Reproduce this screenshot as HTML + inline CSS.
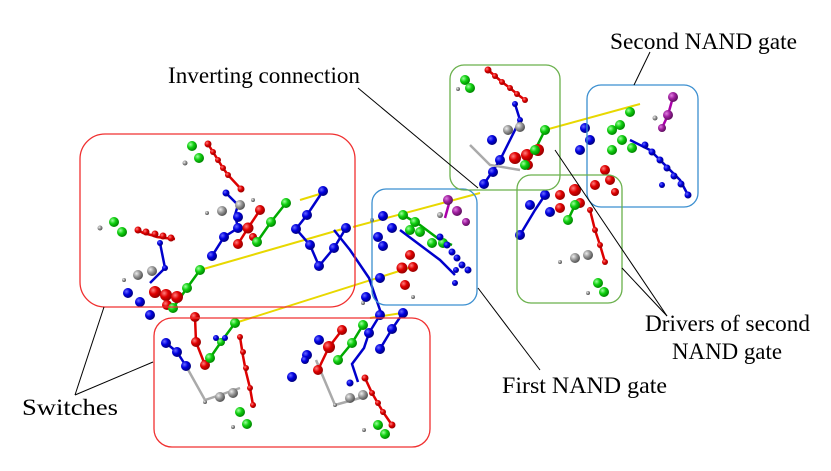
<!DOCTYPE html>
<html><head><meta charset="utf-8"><style>
html,body{margin:0;padding:0;background:#fff}
svg{display:block}
text{font-family:"Liberation Serif",serif;font-size:23px;fill:#000}
</style></head><body>
<svg width="831" height="471" viewBox="0 0 831 471" xmlns="http://www.w3.org/2000/svg">
<defs>
<radialGradient id="r" cx="35%" cy="35%" r="65%"><stop offset="0" stop-color="#ff8080"/><stop offset="0.5" stop-color="#e00000"/><stop offset="1" stop-color="#900"/></radialGradient>
<radialGradient id="b" cx="35%" cy="35%" r="65%"><stop offset="0" stop-color="#6a6aff"/><stop offset="0.5" stop-color="#0000e0"/><stop offset="1" stop-color="#000080"/></radialGradient>
<radialGradient id="g" cx="35%" cy="35%" r="65%"><stop offset="0" stop-color="#a0ffa0"/><stop offset="0.5" stop-color="#10d010"/><stop offset="1" stop-color="#080"/></radialGradient>
<radialGradient id="w" cx="35%" cy="35%" r="65%"><stop offset="0" stop-color="#eee"/><stop offset="0.5" stop-color="#999"/><stop offset="1" stop-color="#555"/></radialGradient>
<radialGradient id="p" cx="35%" cy="35%" r="65%"><stop offset="0" stop-color="#e080e0"/><stop offset="0.5" stop-color="#a020a0"/><stop offset="1" stop-color="#601060"/></radialGradient>
</defs>

<g stroke="#e8d800" stroke-width="2">
<line x1="200" y1="270" x2="346" y2="228"/>
<line x1="353" y1="227" x2="480" y2="193"/>
<line x1="235" y1="323" x2="412" y2="267"/>
<line x1="370" y1="318" x2="402" y2="313"/>
<line x1="545" y1="130" x2="640" y2="104"/>
<line x1="300" y1="200" x2="323" y2="193"/>
</g>

<g fill="none" stroke-width="2.5">
<polyline stroke="#d00" points="208,144 213,152 218,160 223,168 228,175 241,189"/>
<polyline stroke="#d00" points="138,230 143,233 151,235 157,237 165,238 175,239"/>
<polyline stroke="#00c" points="226,193 238,205 235,215 238,228 224,237 212,256"/>
<polyline stroke="#d00" points="260,210 248,228 238,244"/>
<polyline stroke="#0a0" points="286,203 271,222 257,242"/>
<polyline stroke="#00c" points="323,191 307,215 296,229 310,245 319,266 334,248 346,228"/>
<polyline stroke="#00c" points="160,243 165,268 150,283"/>
<polyline stroke="#0a0" points="200,270 187,288 173,308"/>
<polyline stroke="#d00" points="195,317 196,342 205,365"/>
<polyline stroke="#0a0" points="235,323 221,342 210,358"/>
<polyline stroke="#d00" points="240,337 243,356 246,372 250,388 253,405"/>
<polyline stroke="#00c" points="166,343 177,352 186,366"/>
<polyline stroke="#aaa" points="186,366 205,400 220,395 240,388"/>
<polyline stroke="#00c" points="380,315 369,333 364,348 352,364 358,382"/>
<polyline stroke="#00c" points="403,313 392,329 380,349"/>
<polyline stroke="#0a0" points="363,325 352,343 338,360"/>
<polyline stroke="#d00" points="342,330 329,347 318,370"/>
<polyline stroke="#d00" points="365,378 372,393 383,412 392,425"/>
<polyline stroke="#aaa" points="316,360 335,405 360,398"/>
<polyline stroke="#00c" points="334,230 350,250 369,278 381,313"/>
<polyline stroke="#00c" points="400,230 420,245 440,260 455,275"/>
<polyline stroke="#0a0" points="403,215 420,225 440,240 452,245"/>
<polyline stroke="#d00" points="488,70 495,76 502,82 510,88 517,94 525,100"/>
<polyline stroke="#00c" points="515,104 520,120 510,140 500,160 484,184"/>
<polyline stroke="#aaa" points="470,145 490,165 520,170"/>
<polyline stroke="#0a0" points="545,130 535,150 525,165"/>
<polyline stroke="#00c" points="545,195 535,210 520,235"/>
<polyline stroke="#d00" points="590,210 595,230 600,245 605,262"/>
<polyline stroke="#0a0" points="575,205 568,220"/>
<polyline stroke="#00c" points="630,140 650,150 665,165 680,180 688,195"/>
<polyline stroke="#a0a" points="673,97 668,115 662,128"/>
<polyline stroke="#a0a" points="450,200 445,218"/>
</g>

<g>
<circle cx="192" cy="146" r="5" fill="url(#g)"/><circle cx="199" cy="158" r="5" fill="url(#g)"/><circle cx="185" cy="163" r="2.5" fill="url(#w)"/>
<circle cx="208" cy="144" r="3.5" fill="url(#r)"/><circle cx="213" cy="152" r="3" fill="url(#r)"/><circle cx="218" cy="160" r="3" fill="url(#r)"/><circle cx="223" cy="168" r="3" fill="url(#r)"/><circle cx="228" cy="175" r="3" fill="url(#r)"/><circle cx="241" cy="189" r="3.5" fill="url(#r)"/>
<circle cx="114" cy="222" r="5" fill="url(#g)"/><circle cx="122" cy="232" r="5" fill="url(#g)"/><circle cx="100" cy="228" r="2.5" fill="url(#w)"/>
<circle cx="138" cy="230" r="3.5" fill="url(#r)"/><circle cx="146" cy="232" r="3.5" fill="url(#r)"/><circle cx="155" cy="234" r="3.5" fill="url(#r)"/><circle cx="163" cy="236" r="3.5" fill="url(#r)"/><circle cx="171" cy="238" r="3.5" fill="url(#r)"/>
<circle cx="160" cy="243" r="3" fill="url(#b)"/><circle cx="165" cy="268" r="3" fill="url(#b)"/>
<circle cx="138" cy="275" r="5" fill="url(#w)"/><circle cx="152" cy="271" r="5" fill="url(#w)"/><circle cx="124" cy="280" r="2" fill="url(#w)"/>
<circle cx="128" cy="293" r="5" fill="url(#b)"/><circle cx="140" cy="302" r="5" fill="url(#b)"/><circle cx="150" cy="315" r="5" fill="url(#b)"/>
<circle cx="155" cy="292" r="6" fill="url(#r)"/><circle cx="166" cy="295" r="6" fill="url(#r)"/><circle cx="177" cy="297" r="6" fill="url(#r)"/><circle cx="167" cy="305" r="5" fill="url(#r)"/>
<circle cx="200" cy="270" r="5" fill="url(#g)"/><circle cx="187" cy="288" r="5" fill="url(#g)"/><circle cx="173" cy="308" r="5" fill="url(#g)"/>
<circle cx="226" cy="193" r="3.5" fill="url(#b)"/><circle cx="222" cy="211" r="5" fill="url(#w)"/><circle cx="240" cy="205" r="5" fill="url(#w)"/><circle cx="207" cy="213" r="2" fill="url(#w)"/><circle cx="253" cy="200" r="2" fill="url(#w)"/>
<circle cx="238" cy="217" r="5" fill="url(#b)"/><circle cx="238" cy="228" r="5" fill="url(#b)"/><circle cx="224" cy="237" r="5" fill="url(#b)"/><circle cx="212" cy="256" r="5" fill="url(#b)"/>
<circle cx="260" cy="210" r="5" fill="url(#r)"/><circle cx="248" cy="228" r="5.5" fill="url(#r)"/><circle cx="238" cy="244" r="5" fill="url(#r)"/><circle cx="253" cy="237" r="4" fill="url(#r)"/>
<circle cx="286" cy="203" r="5" fill="url(#g)"/><circle cx="271" cy="222" r="5" fill="url(#g)"/><circle cx="257" cy="242" r="5" fill="url(#g)"/>
<circle cx="323" cy="191" r="5" fill="url(#b)"/><circle cx="307" cy="215" r="5" fill="url(#b)"/><circle cx="296" cy="229" r="5" fill="url(#b)"/><circle cx="310" cy="245" r="5" fill="url(#b)"/><circle cx="319" cy="266" r="5" fill="url(#b)"/><circle cx="334" cy="248" r="5" fill="url(#b)"/><circle cx="346" cy="228" r="5" fill="url(#b)"/>
<circle cx="195" cy="317" r="5" fill="url(#r)"/><circle cx="196" cy="342" r="5" fill="url(#r)"/><circle cx="205" cy="365" r="5" fill="url(#r)"/>
<circle cx="235" cy="323" r="5" fill="url(#g)"/><circle cx="221" cy="342" r="4" fill="url(#g)"/><circle cx="210" cy="358" r="5" fill="url(#g)"/>
<circle cx="216" cy="338" r="3" fill="url(#b)"/><circle cx="225" cy="338" r="3" fill="url(#b)"/>
<circle cx="240" cy="337" r="3" fill="url(#r)"/><circle cx="243" cy="352" r="3" fill="url(#r)"/><circle cx="246" cy="368" r="3" fill="url(#r)"/><circle cx="250" cy="388" r="3" fill="url(#r)"/><circle cx="253" cy="405" r="3" fill="url(#r)"/>
<circle cx="166" cy="343" r="5" fill="url(#b)"/><circle cx="177" cy="352" r="5" fill="url(#b)"/><circle cx="186" cy="366" r="5" fill="url(#b)"/>
<circle cx="220" cy="397" r="5" fill="url(#w)"/><circle cx="233" cy="393" r="5" fill="url(#w)"/><circle cx="205" cy="402" r="2" fill="url(#w)"/>
<circle cx="240" cy="412" r="5" fill="url(#g)"/><circle cx="247" cy="424" r="5" fill="url(#g)"/><circle cx="233" cy="427" r="2" fill="url(#w)"/>
<circle cx="403" cy="313" r="5" fill="url(#b)"/><circle cx="392" cy="329" r="5" fill="url(#b)"/><circle cx="380" cy="349" r="5" fill="url(#b)"/>
<circle cx="363" cy="325" r="5" fill="url(#g)"/><circle cx="352" cy="343" r="5" fill="url(#g)"/><circle cx="338" cy="360" r="5" fill="url(#g)"/>
<circle cx="342" cy="330" r="5" fill="url(#r)"/><circle cx="329" cy="347" r="6" fill="url(#r)"/><circle cx="318" cy="370" r="5" fill="url(#r)"/>
<circle cx="319" cy="340" r="5" fill="url(#b)"/><circle cx="307" cy="355" r="5" fill="url(#b)"/><circle cx="292" cy="377" r="5" fill="url(#b)"/><circle cx="305" cy="360" r="4" fill="url(#b)"/>
<circle cx="350" cy="383" r="3.5" fill="url(#b)"/>
<circle cx="365" cy="378" r="3.5" fill="url(#r)"/><circle cx="372" cy="393" r="3" fill="url(#r)"/><circle cx="378" cy="403" r="3" fill="url(#r)"/><circle cx="383" cy="412" r="3" fill="url(#r)"/><circle cx="392" cy="425" r="3.5" fill="url(#r)"/>
<circle cx="350" cy="398" r="5" fill="url(#w)"/><circle cx="363" cy="395" r="5" fill="url(#w)"/><circle cx="335" cy="405" r="2" fill="url(#w)"/>
<circle cx="378" cy="425" r="5" fill="url(#g)"/><circle cx="385" cy="434" r="5" fill="url(#g)"/><circle cx="364" cy="430" r="2" fill="url(#w)"/>
<circle cx="380" cy="315" r="5" fill="url(#b)"/><circle cx="369" cy="333" r="5" fill="url(#b)"/><circle cx="363" cy="303" r="2" fill="url(#w)"/>
<circle cx="383" cy="216" r="5" fill="url(#b)"/><circle cx="392" cy="228" r="5" fill="url(#b)"/><circle cx="378" cy="237" r="5" fill="url(#b)"/><circle cx="383" cy="246" r="5" fill="url(#b)"/><circle cx="372" cy="220" r="2" fill="url(#w)"/>
<circle cx="380" cy="278" r="5" fill="url(#b)"/><circle cx="366" cy="297" r="5" fill="url(#b)"/>
<circle cx="403" cy="215" r="5" fill="url(#g)"/><circle cx="415" cy="222" r="5" fill="url(#g)"/><circle cx="420" cy="232" r="5" fill="url(#g)"/><circle cx="432" cy="243" r="5" fill="url(#g)"/><circle cx="443" cy="243" r="5" fill="url(#g)"/><circle cx="410" cy="230" r="5" fill="url(#g)"/>
<circle cx="448" cy="200" r="5" fill="url(#p)"/><circle cx="457" cy="211" r="5" fill="url(#p)"/><circle cx="466" cy="222" r="4" fill="url(#p)"/><circle cx="440" cy="215" r="3" fill="url(#w)"/>
<circle cx="440" cy="237" r="3.5" fill="url(#b)"/><circle cx="447" cy="245" r="3.5" fill="url(#b)"/><circle cx="452" cy="252" r="3.5" fill="url(#b)"/><circle cx="457" cy="258" r="3.5" fill="url(#b)"/><circle cx="462" cy="265" r="3.5" fill="url(#b)"/><circle cx="468" cy="270" r="3.5" fill="url(#b)"/><circle cx="456" cy="270" r="3" fill="url(#b)"/><circle cx="455" cy="283" r="3" fill="url(#b)"/>
<circle cx="410" cy="255" r="5" fill="url(#r)"/><circle cx="402" cy="268" r="5.5" fill="url(#r)"/><circle cx="413" cy="267" r="5" fill="url(#r)"/><circle cx="405" cy="285" r="5" fill="url(#r)"/><circle cx="413" cy="297" r="2" fill="url(#w)"/>
<circle cx="488" cy="70" r="3.5" fill="url(#r)"/><circle cx="495" cy="76" r="3" fill="url(#r)"/><circle cx="502" cy="82" r="3" fill="url(#r)"/><circle cx="510" cy="88" r="3" fill="url(#r)"/><circle cx="517" cy="94" r="3" fill="url(#r)"/><circle cx="525" cy="100" r="3" fill="url(#r)"/>
<circle cx="465" cy="80" r="5" fill="url(#g)"/><circle cx="470" cy="88" r="5" fill="url(#g)"/><circle cx="458" cy="89" r="2" fill="url(#w)"/>
<circle cx="515" cy="104" r="3" fill="url(#b)"/><circle cx="520" cy="120" r="3" fill="url(#b)"/>
<circle cx="508" cy="130" r="5" fill="url(#w)"/><circle cx="520" cy="127" r="5" fill="url(#w)"/>
<circle cx="492" cy="140" r="5" fill="url(#b)"/><circle cx="500" cy="160" r="5" fill="url(#b)"/><circle cx="493" cy="172" r="5" fill="url(#b)"/><circle cx="484" cy="184" r="5" fill="url(#b)"/>
<circle cx="515" cy="158" r="6" fill="url(#r)"/><circle cx="527" cy="155" r="6" fill="url(#r)"/><circle cx="538" cy="150" r="6" fill="url(#r)"/><circle cx="528" cy="165" r="5" fill="url(#r)"/>
<circle cx="545" cy="130" r="5" fill="url(#g)"/><circle cx="535" cy="150" r="5" fill="url(#g)"/><circle cx="525" cy="165" r="5" fill="url(#g)"/>
<circle cx="545" cy="195" r="5" fill="url(#b)"/><circle cx="530" cy="205" r="5" fill="url(#b)"/><circle cx="520" cy="235" r="5" fill="url(#b)"/><circle cx="550" cy="212" r="5" fill="url(#b)"/>
<circle cx="560" cy="195" r="5" fill="url(#r)"/><circle cx="575" cy="190" r="6" fill="url(#r)"/><circle cx="580" cy="203" r="5" fill="url(#r)"/><circle cx="560" cy="208" r="5" fill="url(#r)"/>
<circle cx="575" cy="205" r="5" fill="url(#g)"/><circle cx="568" cy="220" r="5" fill="url(#g)"/>
<circle cx="595" cy="185" r="5" fill="url(#r)"/><circle cx="610" cy="180" r="5" fill="url(#r)"/><circle cx="605" cy="170" r="5" fill="url(#r)"/><circle cx="615" cy="192" r="4" fill="url(#r)"/>
<circle cx="590" cy="210" r="3" fill="url(#r)"/><circle cx="595" cy="230" r="3" fill="url(#r)"/><circle cx="600" cy="245" r="3" fill="url(#r)"/><circle cx="605" cy="262" r="3" fill="url(#r)"/>
<circle cx="575" cy="258" r="5" fill="url(#w)"/><circle cx="588" cy="255" r="5" fill="url(#w)"/><circle cx="560" cy="262" r="2" fill="url(#w)"/>
<circle cx="598" cy="283" r="5" fill="url(#g)"/><circle cx="604" cy="292" r="5" fill="url(#g)"/><circle cx="588" cy="293" r="2" fill="url(#w)"/>
<circle cx="630" cy="112" r="5" fill="url(#g)"/><circle cx="620" cy="125" r="5" fill="url(#g)"/><circle cx="612" cy="130" r="5" fill="url(#g)"/><circle cx="622" cy="140" r="5" fill="url(#g)"/><circle cx="632" cy="148" r="5" fill="url(#g)"/><circle cx="612" cy="150" r="5" fill="url(#g)"/>
<circle cx="673" cy="97" r="5" fill="url(#p)"/><circle cx="668" cy="115" r="5" fill="url(#p)"/><circle cx="662" cy="128" r="4" fill="url(#p)"/><circle cx="655" cy="118" r="2.5" fill="url(#w)"/>
<circle cx="585" cy="128" r="5" fill="url(#b)"/><circle cx="590" cy="140" r="5" fill="url(#b)"/><circle cx="580" cy="150" r="5" fill="url(#b)"/>
<circle cx="645" cy="145" r="3.5" fill="url(#b)"/><circle cx="652" cy="152" r="3.5" fill="url(#b)"/><circle cx="660" cy="160" r="3.5" fill="url(#b)"/><circle cx="667" cy="168" r="3.5" fill="url(#b)"/><circle cx="674" cy="176" r="3.5" fill="url(#b)"/><circle cx="681" cy="184" r="3.5" fill="url(#b)"/><circle cx="688" cy="195" r="3.5" fill="url(#b)"/><circle cx="662" cy="185" r="3" fill="url(#b)"/>
</g>

<g fill="none" stroke-width="1.3">
<rect x="80" y="134" width="275" height="173" rx="25" stroke="#f03030"/>
<rect x="154" y="318" width="276" height="129" rx="18" stroke="#f03030"/>
<rect x="372" y="189" width="105" height="116" rx="14" stroke="#3b8fd0"/>
<rect x="587" y="85" width="111" height="122" rx="14" stroke="#3b8fd0"/>
<rect x="450" y="65" width="110" height="125" rx="14" stroke="#6ab04c"/>
<rect x="517" y="175" width="105" height="128" rx="14" stroke="#6ab04c"/>
</g>

<g stroke="#000" stroke-width="1">
<line x1="650" y1="52" x2="634" y2="85"/>
<line x1="358" y1="88" x2="478" y2="188"/>
<line x1="667" y1="316" x2="555" y2="150"/>
<line x1="667" y1="316" x2="622" y2="268"/>
<line x1="540" y1="370" x2="478" y2="288"/>
<line x1="75" y1="395" x2="104" y2="307"/>
<line x1="75" y1="395" x2="153" y2="362"/>
</g>

<text x="610" y="49" textLength="187" lengthAdjust="spacingAndGlyphs">Second NAND gate</text>
<text x="168" y="83" textLength="192" lengthAdjust="spacingAndGlyphs">Inverting connection</text>
<text x="645" y="331" textLength="165" lengthAdjust="spacingAndGlyphs">Drivers of second</text>
<text x="672" y="359" textLength="110" lengthAdjust="spacingAndGlyphs">NAND gate</text>
<text x="502" y="393" textLength="165" lengthAdjust="spacingAndGlyphs">First NAND gate</text>
<text x="22" y="415" textLength="96" lengthAdjust="spacingAndGlyphs">Switches</text>
</svg>
</body></html>
